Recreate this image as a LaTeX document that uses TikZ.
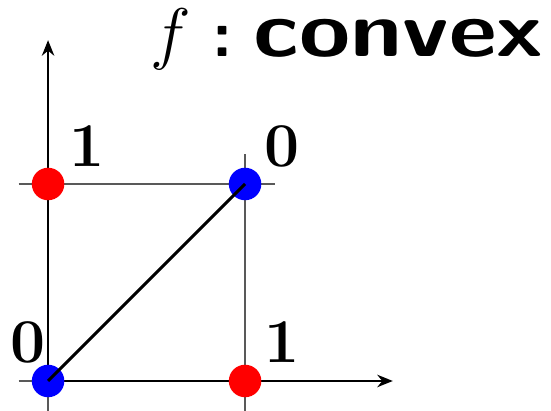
\documentclass[tikz,border=0pt]{standalone}
\usepackage{amsmath,amssymb}
\usepackage{graphicx}
\usepackage{xcolor}
\usepackage{tikz}
\usetikzlibrary{positioning,arrows.meta}

\begin{document}
\begin{tikzpicture}[x=2cm,y=2cm,
  dot/.style={circle,fill=#1,inner sep=0pt,minimum size=0.33cm},
  val/.style={font=\fontsize{18}{20}\selectfont\bfseries,inner sep=0pt},
  gline/.style={gray!70!black,line width=0.45pt},
  axis/.style={-{Stealth[length=4.5pt,width=3.6pt]},line width=0.6pt},
  diag/.style={line width=0.85pt}]
\useasboundingbox (-0.244,-0.152) rectangle (2.553,1.934);
% grid lines through 0 and 1
\draw[gline] (-0.15,0) -- (1.15,0);
\draw[gline] (-0.15,1) -- (1.15,1);
\draw[gline] (0,-0.15) -- (0,1.15);
\draw[gline] (1,-0.15) -- (1,1.15);
% axes
\coordinate (o) at (0,0);
\coordinate (xend) at (1.75,0);
\coordinate (yend) at (0,1.73);
\draw[axis] (o) -- (xend);
\draw[axis] (o) -- (yend);
% corners
\node[dot=blue] (p00) at (0,0) {};
\node[dot=red]  (p10) at (1,0) {};
\node[dot=red]  (p01) at (0,1) {};
\node[dot=blue] (p11) at (1,1) {};
\draw[diag] (p00.center) -- (p11.center);
\node[val] (v00) at (-0.104,0.195) {0};
\node[val] (v10) at (1.19,0.2) {1};
\node[val] (v01) at (0.2,1.19) {1};
\node[val] (v11) at (1.19,1.19) {0};
\node[anchor=base west,inner sep=0pt,font=\bfseries\sffamily] (ttl) at (0.518,1.645)
  {\fontsize{17.28}{20}\selectfont\scalebox{1.15}{$f$}\hspace{6pt}\fontsize{19}{22}\selectfont:\hspace{6.2pt}%
   \resizebox{2.94cm}{0.378cm}{convex}};
\end{tikzpicture}
\end{document}
